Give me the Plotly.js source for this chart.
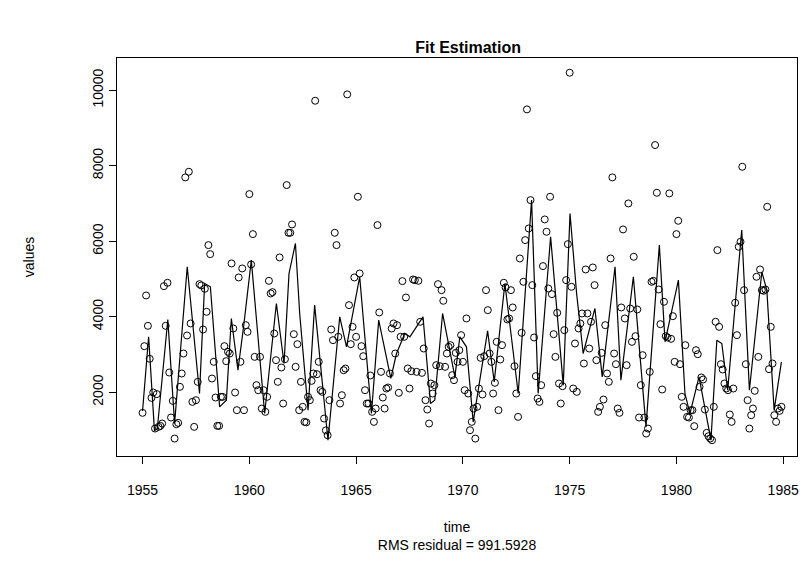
<!DOCTYPE html>
<html>
<head>
<meta charset="utf-8">
<script src="https://cdn.plot.ly/plotly-3.0.1.min.js"></script>
<style>
html,body{margin:0;padding:0;background:#fff;}
#plot{width:807px;height:561px;}
</style>
</head>
<body>
<div id="plot"></div>
<script>
// Observed monthly series, starting January 1955
const startYear = 1955;
const monthsPerYear = 12;
const values = [
  1453, 3219, 4562, 3758, 2884, 1850, 1992, 1037, 1950, 1082, 1108, 1170,
  4809, 3758, 4898, 2521, 1329, 1770, 772, 1152, 1188, 2142, 2495, 3025, 7689,
  3502, 7839, 3820, 1744, 1082, 1788, 2274, 4862, 4827, 3661, 4739, 4129, 5896, 5657, 2362,
  2804, 1859, 1108, 1108, 1876, 1876, 3219, 2822, 3070, 3025, 5410, 3688, 1992, 1524, 5039, 2804,
  5278, 1524, 3776, 3599, 7247, 5384, 6187, 2936, 2186, 2053, 2936, 1567, 2053, 1479, 1877,
  4950, 4615, 4650, 3555, 2848, 2274, 5569, 2654, 1700, 2874, 7486, 6222, 6222, 6443, 3537, 2672,
  3272, 1524, 2274, 1612, 1214, 1200, 1877, 1788, 2300, 2495, 9720, 2477, 2804, 2053, 2009, 1302,
  989, 860, 1788, 3661, 3378, 6222, 5896, 3467, 1700, 1921, 2583, 2627, 9888, 4306, 3272,
  3731, 5039, 3467, 7177, 5145, 3219, 2954, 2053, 1700, 1700, 2442, 1479, 1214, 1567, 6426, 4112,
  2539, 1859, 1567, 2098, 2124, 2495, 3687, 3820, 3025, 3776, 1983, 3467, 4942, 3467, 4509,
  2628, 2098, 2557, 4986, 4968, 2539, 4950, 3864, 2512, 3157, 1788, 1541, 1170, 2230, 1965, 2186,
  2716, 4862, 2689, 4703, 4421, 2672, 3025, 3202, 3246, 2451, 2318, 3042, 2804, 3113, 3511,
  2804, 2053, 3953, 1965, 993, 1214, 1567, 772, 1612, 2098, 2910, 1939, 2954, 4703, 4173, 3025,
  2804, 1965, 2248, 3334, 1524, 2865, 3246, 4898, 4774, 3926, 3953, 4703, 4244, 2689, 1965,
  1346, 5542, 3573, 4924, 6028, 9491, 6337, 7088, 4836, 3449, 2425, 1833, 1744, 2186, 5340, 6576,
  6249, 4748, 7177, 4597, 3537, 2936, 4103, 2230, 1700, 2160, 3643, 4968, 5922, 10462, 4792,
  2098, 3290, 2009, 3688, 3820, 4085, 2760, 5251, 4085, 3157, 3864, 5304, 4836, 2848, 1479, 1612,
  3042, 1806, 3776, 2495, 2274, 5542, 7689, 3025, 2742, 1567, 1453, 4244, 6311, 3953, 2716,
  7000, 4217, 3334, 5587, 3484, 4191, 1329, 2186, 2981, 1329, 905, 1037, 2539, 4924, 4950, 8546,
  7282, 4721, 3802, 2071, 4394, 3484, 3449, 7265, 3413, 4014, 2804, 6187, 6540, 2742, 1877,
  1612, 3246, 1346, 1329, 1524, 1524, 1100, 3113, 3007, 2142, 2389, 2336, 1541, 922, 834, 772,
  728, 1612, 3864, 5763, 3731, 2742, 2601, 2230, 2098, 2053, 1409, 1214, 2098, 4368, 3511,
  5852, 5984, 7971, 4703, 2742, 1788, 1037, 1391, 1567, 2036, 5057, 2936, 5251, 4703, 4686, 4721,
  6911, 2610, 3731, 2760, 1391, 1214, 1567, 1506, 1612
];

// Fitted curve, read at its turning points
const fitTime = [
  1955.000, 1955.283, 1955.558, 1955.692, 1956.183, 1956.500, 1957.092, 1957.667, 1957.908,
  1958.175, 1958.608, 1958.925, 1959.158, 1959.467, 1959.750, 1960.092, 1960.717, 1961.267,
  1961.625, 1961.858, 1962.158, 1962.358, 1962.750, 1963.058, 1963.683, 1964.233, 1964.550,
  1965.167, 1965.717, 1966.058, 1966.625, 1966.892, 1967.283, 1967.517, 1968.133, 1968.483,
  1968.683, 1969.050, 1969.625, 1969.858, 1970.167, 1970.483, 1971.158, 1971.467, 1971.967,
  1972.592, 1973.217, 1973.525, 1974.108, 1974.700, 1975.017, 1975.325, 1975.633, 1976.183,
  1976.525, 1977.125, 1977.400, 1977.983, 1978.575, 1979.200, 1979.467, 1980.092, 1980.400,
  1980.633, 1981.058, 1981.617, 1981.892, 1982.125, 1982.400, 1983.058, 1983.417, 1984.000,
  1984.233, 1984.575, 1984.917
];
const fitValue = [
  1500, 3467, 976, 1037, 3926, 1170, 5322, 1965, 4880,
  4792, 1612, 1788, 3953, 2583, 3820, 5498, 1435, 4350,
  2760, 5145, 5940, 4085, 1524, 4306, 728, 3997, 3202,
  5057, 1435, 3908, 2363, 3025, 3555, 3467, 3997, 1700,
  1788, 4085, 2407, 3467, 3202, 1214, 3626, 2274, 4880,
  1965, 7088, 1965, 6115, 2186, 6735, 4615, 3025, 4218,
  2407, 5322, 2318, 5057, 1082, 5896, 3334, 4968, 1965,
  1435, 2407, 728, 3378, 3290, 2053, 6293, 2053, 5189,
  4703, 1524, 2804
];

const xTicks = [1955, 1960, 1965, 1970, 1975, 1980, 1985];
const yTicks = [2000, 4000, 6000, 8000, 10000];
const rmsText = "RMS residual = 991.5928";

const time = values.map((v, i) => startYear + i / monthsPerYear);

const font = "Liberation Sans, Arial, Helvetica, sans-serif";

const traces = [
  {
    x: time, y: values, type: "scatter", mode: "markers",
    marker: {symbol: "circle-open", size: 7, color: "#000", line: {width: 1, color: "#000"}},
    hoverinfo: "skip"
  },
  {
    x: fitTime, y: fitValue, type: "scatter", mode: "lines",
    line: {color: "#000", width: 1.2},
    hoverinfo: "skip"
  }
];

const layout = {
  width: 807, height: 561,
  margin: {l: 117, r: 10, t: 58, b: 105},
  paper_bgcolor: "#fff", plot_bgcolor: "#fff",
  showlegend: false,
  font: {family: font, color: "#000", size: 13},
  title: {
    text: "<b>Fit Estimation</b>",
    font: {family: font, size: 16, color: "#000"},
    x: 0.58, xanchor: "center", y: 0.916, yanchor: "middle"
  },
  xaxis: {
    range: [1953.803, 1985.646], autorange: false,
    showgrid: false, zeroline: false,
    showline: true, linecolor: "#000", linewidth: 1, mirror: true,
    ticks: "outside", ticklen: 7, tickwidth: 1, tickcolor: "#000",
    tickvals: xTicks, ticktext: xTicks.map(String),
    ticklabelstandoff: 14,
    tickfont: {family: font, size: 14},
    title: {text: "time<br>" + rmsText, font: {family: font, size: 14}, standoff: 25}
  },
  yaxis: {
    range: [310, 10852], autorange: false,
    showgrid: false, zeroline: false,
    showline: true, linecolor: "#000", linewidth: 1, mirror: true,
    ticks: "outside", ticklen: 7, tickwidth: 1, tickcolor: "#000",
    tickvals: yTicks, ticktext: yTicks.map(String), tickangle: -90,
    tickfont: {family: font, size: 14},
    title: {text: "values", font: {family: font, size: 14}, standoff: 52}
  }
};

Plotly.newPlot("plot", traces, layout, {staticPlot: true, displayModeBar: false});
</script>
</body>
</html>
